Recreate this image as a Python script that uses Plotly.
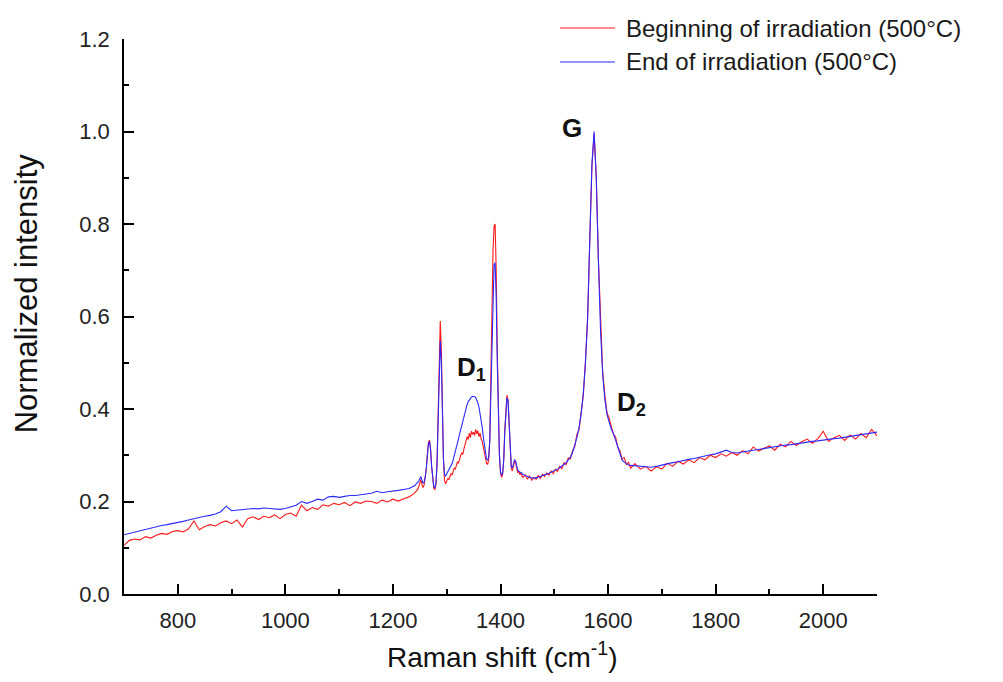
import plotly.graph_objects as go

# Raman shift positions (cm-1), sampled more densely around the peaks
shift = (list(range(700, 1241, 10)) + list(range(1242, 1441, 2))
         + list(range(1442, 1643, 4)) + list(range(1650, 2101, 10)))

# End of irradiation (blue)
end_irr = [
    # 700-1240 step 10
    0.128, 0.131, 0.134, 0.137, 0.139, 0.142, 0.145, 0.148, 0.150, 0.152,
    0.155, 0.157, 0.160, 0.163, 0.166, 0.168, 0.170, 0.173, 0.178, 0.190,
    0.180, 0.181, 0.182, 0.183, 0.185, 0.184, 0.186, 0.185, 0.184, 0.183,
    0.185, 0.188, 0.192, 0.200, 0.196, 0.200, 0.205, 0.203, 0.210, 0.211,
    0.209, 0.211, 0.213, 0.213, 0.215, 0.217, 0.218, 0.222, 0.219, 0.221,
    0.222, 0.224, 0.226, 0.228, 0.234,
    # 1242-1440 step 2
    0.236, 0.238, 0.240, 0.244, 0.250, 0.254, 0.246, 0.240, 0.242, 0.252,
    0.272, 0.300, 0.324, 0.330, 0.312, 0.275, 0.245, 0.232, 0.230, 0.240,
    0.280, 0.380, 0.490, 0.548, 0.500, 0.380, 0.290, 0.258, 0.255, 0.260,
    0.264, 0.268, 0.272, 0.276, 0.282, 0.290, 0.298, 0.307, 0.316, 0.326,
    0.336, 0.346, 0.356, 0.366, 0.376, 0.386, 0.395, 0.403, 0.410, 0.416,
    0.420, 0.424, 0.426, 0.427, 0.427, 0.427, 0.424, 0.420, 0.413, 0.404,
    0.392, 0.378, 0.360, 0.340, 0.320, 0.303, 0.292, 0.290, 0.295, 0.330,
    0.420, 0.550, 0.660, 0.712, 0.716, 0.640, 0.500, 0.380, 0.300, 0.265,
    0.256, 0.262, 0.290, 0.350, 0.405, 0.424, 0.418, 0.370, 0.310, 0.276,
    0.272, 0.282, 0.290, 0.288, 0.276, 0.268, 0.265, 0.264, 0.262, 0.261,
    # 1442-1642 step 4
    0.258, 0.256, 0.254, 0.253, 0.251, 0.250, 0.251, 0.253, 0.254, 0.256,
    0.257, 0.259, 0.261, 0.263, 0.265, 0.267, 0.270, 0.273, 0.276, 0.280,
    0.284, 0.289, 0.296, 0.306, 0.320, 0.338, 0.360, 0.390, 0.435, 0.500,
    0.600, 0.760, 0.930, 1.000, 0.900, 0.720, 0.570, 0.475, 0.420, 0.388,
    0.370, 0.356, 0.347, 0.333, 0.315, 0.300, 0.290, 0.285, 0.281, 0.279,
    0.278,
    # 1650-2100 step 10
    0.277, 0.276, 0.275, 0.274, 0.276, 0.279, 0.282, 0.284, 0.286, 0.289,
    0.291, 0.293, 0.296, 0.298, 0.301, 0.303, 0.307, 0.311, 0.306, 0.305,
    0.307, 0.309, 0.311, 0.312, 0.314, 0.316, 0.318, 0.320, 0.322, 0.323,
    0.325, 0.327, 0.328, 0.330, 0.331, 0.333, 0.334, 0.336, 0.337, 0.339,
    0.340, 0.342, 0.344, 0.347, 0.349, 0.350,
]

# Beginning of irradiation (red)
begin_irr = [
    # 700-1240 step 10
    0.105, 0.116, 0.119, 0.117, 0.124, 0.121, 0.127, 0.131, 0.129, 0.135,
    0.137, 0.134, 0.141, 0.158, 0.139, 0.146, 0.150, 0.147, 0.154, 0.158,
    0.152, 0.160, 0.145, 0.163, 0.167, 0.161, 0.168, 0.165, 0.171, 0.163,
    0.172, 0.175, 0.168, 0.192, 0.180, 0.187, 0.183, 0.193, 0.190, 0.196,
    0.193, 0.198, 0.191, 0.199, 0.196, 0.201, 0.200, 0.196, 0.203, 0.199,
    0.205, 0.201, 0.206, 0.210, 0.218,
    # 1242-1440 step 2
    0.220, 0.223, 0.226, 0.232, 0.240, 0.248, 0.236, 0.230, 0.236, 0.250,
    0.270, 0.302, 0.328, 0.333, 0.314, 0.275, 0.242, 0.228, 0.226, 0.236,
    0.285, 0.400, 0.530, 0.590, 0.530, 0.390, 0.285, 0.245, 0.238, 0.244,
    0.250, 0.247, 0.256, 0.260, 0.258, 0.266, 0.272, 0.270, 0.280, 0.286,
    0.283, 0.294, 0.300, 0.305, 0.302, 0.314, 0.322, 0.330, 0.340, 0.334,
    0.348, 0.338, 0.352, 0.345, 0.350, 0.343, 0.356, 0.346, 0.353, 0.340,
    0.348, 0.335, 0.330, 0.318, 0.305, 0.295, 0.283, 0.280, 0.290, 0.330,
    0.440, 0.600, 0.740, 0.795, 0.800, 0.700, 0.530, 0.390, 0.300, 0.262,
    0.252, 0.258, 0.290, 0.355, 0.410, 0.430, 0.420, 0.370, 0.308, 0.272,
    0.266, 0.278, 0.286, 0.284, 0.272, 0.262, 0.266, 0.258, 0.262, 0.254,
    # 1442-1642 step 4
    0.252, 0.258, 0.248, 0.255, 0.246, 0.252, 0.248, 0.256, 0.250, 0.259,
    0.254, 0.262, 0.257, 0.266, 0.260, 0.270, 0.265, 0.276, 0.271, 0.284,
    0.280, 0.294, 0.292, 0.310, 0.318, 0.345, 0.355, 0.392, 0.430, 0.505,
    0.595, 0.765, 0.925, 0.995, 0.905, 0.725, 0.580, 0.480, 0.430, 0.392,
    0.380, 0.360, 0.345, 0.340, 0.318, 0.310, 0.292, 0.295, 0.280, 0.285,
    0.272,
    # 1650-2100 step 10
    0.282, 0.270, 0.276, 0.266, 0.275, 0.270, 0.283, 0.276, 0.287, 0.281,
    0.290, 0.284, 0.295, 0.290, 0.300, 0.295, 0.303, 0.298, 0.306, 0.300,
    0.310, 0.303, 0.318, 0.309, 0.315, 0.320, 0.311, 0.324, 0.318, 0.330,
    0.321, 0.329, 0.335, 0.326, 0.336, 0.352, 0.330, 0.338, 0.343, 0.332,
    0.344, 0.335, 0.347, 0.338, 0.356, 0.342,
]

series_names = ["Beginning of irradiation (500°C)", "End of irradiation (500°C)"]
x_ticks = [800, 1000, 1200, 1400, 1600, 1800, 2000]
y_ticks = [0.0, 0.2, 0.4, 0.6, 0.8, 1.0, 1.2]

# Peak labels: (text, x, y)
peak_labels = [("G", 1533, 1.008), ("D<sub>1</sub>", 1346, 0.487), ("D<sub>2</sub>", 1643, 0.411)]

RED = "#ff1a1a"
BLUE = "#2a2aff"
FONT = "Arial, Liberation Sans, sans-serif"

fig = go.Figure()
fig.add_trace(go.Scatter(x=shift, y=begin_irr, mode="lines", name=series_names[0],
                         line=dict(color=RED, width=1.1), showlegend=False))
fig.add_trace(go.Scatter(x=shift, y=end_irr, mode="lines", name=series_names[1],
                         line=dict(color=BLUE, width=1.1), showlegend=False))

annotations = []
for txt, xv, yv in peak_labels:
    annotations.append(dict(x=xv, y=yv, xref="x", yref="y", text="<b>" + txt + "</b>",
                            showarrow=False, font=dict(family=FONT, size=26, color="#111")))

# Manual legend (paper coords)
leg_y = [1.0198, 0.9586]
leg_col = [RED, BLUE]
shapes = []
for i in range(2):
    shapes.append(dict(type="line", xref="paper", yref="paper", x0=0.579, x1=0.652,
                       y0=leg_y[i], y1=leg_y[i], line=dict(color=leg_col[i], width=1.1)))
    annotations.append(dict(x=0.664, y=leg_y[i], xref="paper", yref="paper",
                            text=series_names[i], showarrow=False, xanchor="left",
                            yanchor="middle", font=dict(family=FONT, size=24, color="#1a1a1a")))

# Axis titles as annotations for precise placement
annotations.append(dict(x=0.502, y=-0.110, xref="paper", yref="paper",
                        text="Raman shift (cm<sup>-1</sup>)", showarrow=False,
                        xanchor="center", yanchor="middle",
                        font=dict(family=FONT, size=28, color="#111")))
annotations.append(dict(x=-0.130, y=0.542, xref="paper", yref="paper",
                        text="Normalized intensity", showarrow=False, textangle=-90,
                        xanchor="center", yanchor="middle",
                        font=dict(family=FONT, size=31, color="#111")))

fig.update_layout(
    width=995, height=674,
    margin=dict(l=116, r=126, t=31, b=88),
    paper_bgcolor="white", plot_bgcolor="white",
    font=dict(family=FONT, color="#222"),
    annotations=annotations, shapes=shapes,
    showlegend=False,
)
fig.update_xaxes(
    range=[700, 2100], tickvals=x_ticks, ticks="inside", ticklen=10, tickwidth=1.5,
    tickcolor="black", showline=True, linecolor="black", linewidth=1.5,
    showgrid=False, zeroline=False, tickfont=dict(family=FONT, size=22, color="#222"),
    ticklabelstandoff=6,
    minor=dict(dtick=100, tick0=700, ticks="inside", ticklen=5, tickwidth=1.5, tickcolor="black", showgrid=False),
)
fig.update_yaxes(
    range=[0, 1.2], tickvals=y_ticks, tickformat=".1f", ticks="inside", ticklen=10, tickwidth=1.5,
    tickcolor="black", showline=True, linecolor="black", linewidth=1.5,
    showgrid=False, zeroline=False, tickfont=dict(family=FONT, size=22, color="#222"),
    ticklabelstandoff=8,
    minor=dict(dtick=0.1, ticks="inside", ticklen=5, tickwidth=1.5, tickcolor="black", showgrid=False),
)

fig.write_html("out.html")
